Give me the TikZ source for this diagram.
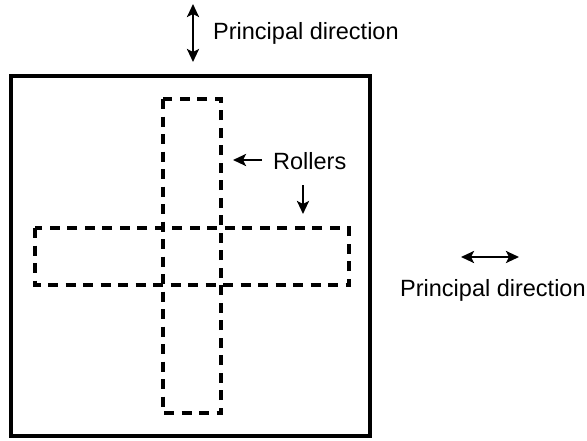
\documentclass[tikz,border=0pt]{standalone}
\usepackage{fontspec}
\setmainfont{Liberation Sans}
\usetikzlibrary{arrows.meta}
\begin{document}
\begin{tikzpicture}[x=1pt,y=-1pt,
  lbl/.style={inner sep=0pt,anchor=base west,font=\fontsize{23.5}{27}\selectfont},
  roller/.style={draw,line width=3.6pt,dash pattern=on 10pt off 7.5pt,miter limit=10},
  outerbox/.style={draw,line width=3.6pt},
  tip/.style={},
  arr/.style={line width=2.6pt,-{Stealth[length=13pt,width=12pt,inset=3pt]}},
  darr/.style={line width=2.6pt,{Stealth[length=13pt,width=12pt,inset=3pt]}-{Stealth[length=13pt,width=12pt,inset=3pt]}}]
\useasboundingbox (0,0) rectangle (587,440);
\clip (0,0) rectangle (587,440);
% outer sheet
\draw[outerbox] (11,76) rectangle (370,436);
% rollers
\draw[roller] (163,99) rectangle (221,413);
\draw[roller] (35,228) rectangle (349,285);
% labels
\node[lbl] (ptop) at (213,39.3) {Principal direction};
\node[lbl] (rol) at (273,169.3) {Rollers};
\node[lbl] (pright) at (400,296) {Principal direction};
% arrow ends
\coordinate (v1) at (193,4);
\coordinate (v2) at (193,62);
\coordinate (l1) at (262,160);
\coordinate (l2) at (233,160);
\coordinate (d1) at (303,185);
\coordinate (d2) at (303,214);
\coordinate (h1) at (461,257);
\coordinate (h2) at (519,257);
\draw[darr] (v1) -- (v2);
\draw[arr] (l1) -- (l2);
\draw[arr] (d1) -- (d2);
\draw[darr] (h1) -- (h2);
\end{tikzpicture}
\end{document}
